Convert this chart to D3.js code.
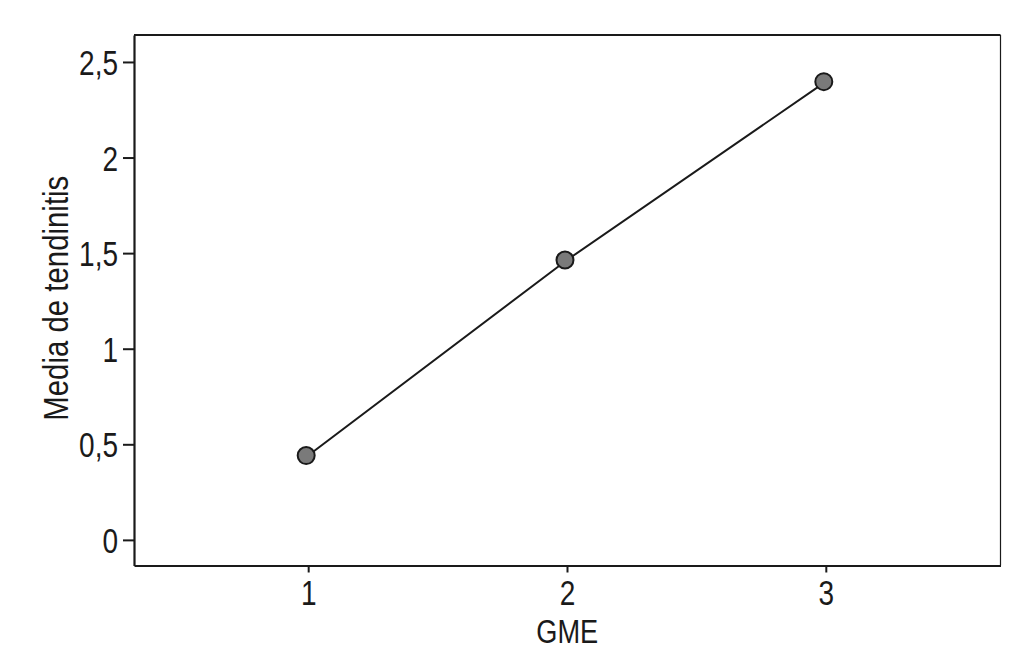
<!DOCTYPE html>
<html><head><meta charset="utf-8">
<script src="https://cdn.jsdelivr.net/npm/d3@7"></script>
<style>
body{margin:0;background:#fff;}
text{font-family:"Liberation Sans",Arial,sans-serif;fill:#1a1a1a;}
</style></head><body>
<svg id="c" width="1029" height="670"></svg>
<script>
const categories = [1, 2, 3];
const values = [0.441, 1.464, 2.397];
const yTicks = [0, 0.5, 1, 1.5, 2, 2.5];
const xLabel = "GME";
const yLabel = "Media de tendinitis";

const svg = d3.select("#c");
const L = 134, R = 1000.5, T = 35, B = 565.5;
const SX = 0.8;
const x = d3.scaleLinear().domain([0.327, 3.675]).range([L, R]);
const y = d3.scaleLinear().domain([-0.134, 2.641]).range([B, T]);
const fmt = d => String(d).replace(".", ",");

// frame
svg.append("line").attr("x1", L).attr("x2", R).attr("y1", T).attr("y2", T).attr("stroke", "#1a1a1a").attr("stroke-width", 2.2);
svg.append("line").attr("x1", R).attr("x2", R).attr("y1", T).attr("y2", B).attr("stroke", "#1a1a1a").attr("stroke-width", 1.2);

const yAxis = svg.append("g").attr("transform", `translate(${L},0)`)
  .call(d3.axisLeft(y).tickValues(yTicks).tickFormat(fmt).tickSize(11).tickSizeOuter(0).tickPadding(5));
const xAxis = svg.append("g").attr("transform", `translate(0,${B})`)
  .call(d3.axisBottom(x).tickValues(categories).tickFormat(fmt).tickSize(7).tickSizeOuter(0).tickPadding(8));
[yAxis, xAxis].forEach(g => {
  g.select(".domain").attr("stroke", "#1a1a1a").attr("stroke-width", 2.2);
  g.selectAll(".tick line").attr("stroke", "#1a1a1a").attr("stroke-width", 2);
  g.selectAll(".tick text").attr("font-size", 35).attr("fill", "#1a1a1a")
   .style("font-family", '"Liberation Sans",Arial,sans-serif');
});
yAxis.selectAll(".tick text").attr("dy", "0.36em")
  .attr("x", -16 / SX).attr("transform", `scale(${SX},1)`);
xAxis.selectAll(".tick text").attr("transform", `scale(${SX},1)`);

// labels
svg.append("text").attr("transform", `translate(${(L + R) / 2},643) scale(${SX},1)`)
  .attr("text-anchor", "middle").attr("font-size", 34).text(xLabel);
svg.append("text").attr("transform", `translate(68,${(T + B) / 2 - 2}) rotate(-90) scale(0.84,1)`)
  .attr("text-anchor", "middle").attr("font-size", 35).text(yLabel);

const data = categories.map((c, i) => ({c, v: values[i]}));
svg.append("path").datum(data)
  .attr("d", d3.line().x(d => x(d.c)).y(d => y(d.v)))
  .attr("fill", "none").attr("stroke", "#1a1a1a").attr("stroke-width", 2);
svg.selectAll("circle.pt").data(data).join("circle").attr("class", "pt")
  .attr("cx", d => x(d.c) - 2).attr("cy", d => y(d.v)).attr("r", 8.5)
  .attr("fill", "#7a7a7a").attr("stroke", "#1a1a1a").attr("stroke-width", 2);
</script></body></html>
